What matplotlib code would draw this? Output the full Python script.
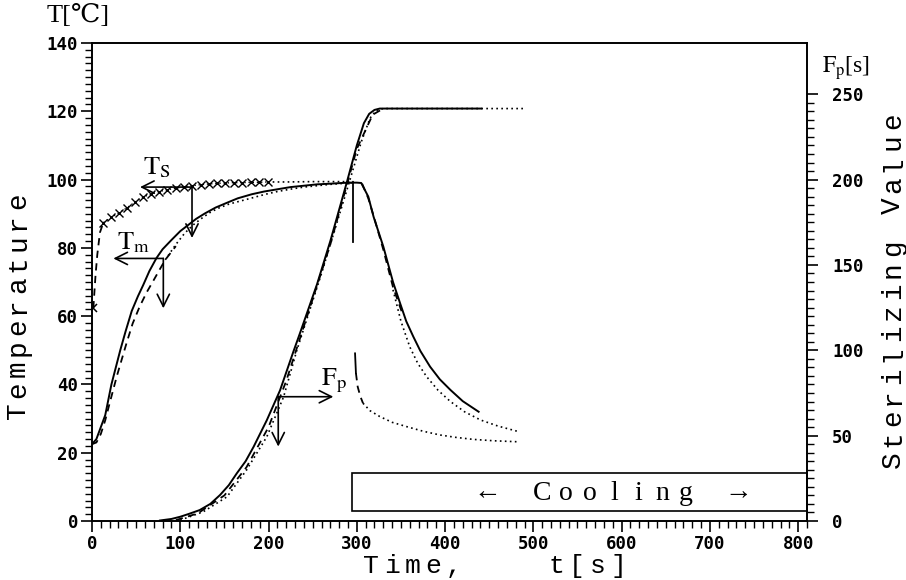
import matplotlib
matplotlib.use("Agg")
from matplotlib import pyplot as plt
from matplotlib.patches import Rectangle
from matplotlib.ticker import MultipleLocator

# ---- data ----
# centre temperature Tm, calculated (solid)
tm_calc_t = [0, 5, 10, 15, 22, 32, 38, 45, 52, 58, 65, 73, 80, 90, 100, 109, 118, 128, 140, 151,
             165, 181, 195, 211, 225, 240, 255, 270, 290, 300, 305, 313, 319, 330, 341, 349, 356,
             364, 372, 383, 394, 406, 420, 438]
tm_calc = [22.5, 24, 27.5, 31, 40, 50, 55.5, 61.5, 65.8, 69.1, 73.2, 77, 79.6, 82.3, 84.9, 86.7,
           88.5, 90.1, 91.8, 93, 94.5, 95.7, 96.5, 97.2, 97.8, 98.2, 98.6, 98.8, 99.1, 99.1, 99.0,
           95, 89.1, 80.4, 70.0, 63.8, 58.5, 54, 49.8, 45.2, 41.5, 38.4, 35.1, 32]
# Tm measured, dashed parts
tm_dash_t = [0, 5, 10, 15, 20, 28, 39, 46, 54, 62, 70, 77, 83, 95]
tm_dash = [22.5, 23, 25.5, 29.5, 34.5, 42.3, 52, 57.8, 62.8, 67.0, 70.6, 73.8, 76.5, 80.5]
tm_dash_cool_t = [306, 313, 320, 330, 341, 352]
tm_dash_cool = [98.8, 94.5, 88.5, 79.5, 68.5, 60.5]
# Tm measured, dotted parts
tm_dot_t = [83, 95, 105, 115, 125, 134, 143, 155, 165, 181, 195, 210, 225, 240, 255, 270, 296]
tm_dot = [76.5, 81.0, 84.3, 86.8, 88.8, 90.4, 91.6, 92.8, 93.5, 94.6, 95.6, 96.5, 97.2, 97.8,
          98.2, 98.6, 99.1]
tm_dot_cool_t = [341, 350, 360, 369, 379, 392, 406, 422, 440, 460, 483]
tm_dot_cool = [67.7, 58.5, 51, 46.2, 42.3, 38.3, 35, 32.0, 29.6, 27.8, 26.2]

# surface temperature Ts
ts_first_t, ts_first = [1.5], [62.3]
ts_rise_t = [1.5, 4, 6, 9, 12.8]
ts_rise = [62.3, 72, 78, 84.5, 87.4]
ts_mark_t = [13, 22, 31, 40, 49, 58, 67, 76, 85, 95, 104, 113, 123, 132, 142, 151, 161, 170, 180,
             189, 199]
ts_mark = [87.4, 89.0, 90.3, 91.8, 93.5, 94.9, 95.8, 96.5, 97.0, 97.5, 97.9, 98.2, 98.5, 98.7, 98.9,
           99.0, 99.1, 99.1, 99.2, 99.2, 99.3]
ts_hold_t = [199, 220, 250, 280, 296]
ts_hold = [99.3, 99.3, 99.4, 99.4, 99.4]
ts_drop_t = [296, 296]
ts_drop = [99.4, 81.8]
ts_cool_solid_t = [298, 299]
ts_cool_solid = [49.1, 43.3]
ts_cool_dash_t = [299, 301, 304, 307]
ts_cool_dash = [43.3, 39.3, 36.5, 34.5]
ts_cool_dot_t = [307, 315, 326, 340, 357, 375, 394, 412, 432, 455, 483]
ts_cool_dot = [34.5, 32.3, 30.6, 28.9, 27.6, 26.3, 25.2, 24.5, 23.9, 23.5, 23.2]

# sterilizing value Fp [s]
fp_calc_t = [77, 90, 100, 110, 122, 134, 145, 155, 164, 174, 183, 198, 213, 228, 236, 255, 270,
             289, 300, 308, 314, 320, 326, 335, 441]
fp_calc = [0.3, 1.2, 2.5, 4.2, 6.4, 10, 15.2, 21, 27.9, 35, 43.4, 59, 76.5, 99, 110.6, 138.8, 164,
           199, 220, 233, 238.5, 240.8, 241.6, 241.6, 241.6]
fp_dash_t = [95, 120, 150, 175, 200, 220, 240, 270, 300, 318, 330]
fp_dash = [0.5, 4.5, 15, 31.5, 55, 82, 114, 162, 218, 238, 241.6]
fp_dot_t = [100, 126, 153, 175, 198, 217, 232, 260, 290, 305, 315, 322, 330, 441, 489]
fp_dot = [0.5, 5.4, 14.2, 29.8, 49.3, 72.6, 99.9, 145, 196, 222, 236, 240.5, 241.6, 241.6, 241.6]

W, H = 906, 580
SERIF = ["Liberation Serif", "DejaVu Serif"]
MONO = ["Liberation Mono", "DejaVu Sans Mono"]

plt.rcParams["font.family"] = "DejaVu Sans Mono"
plt.rcParams["mathtext.fontset"] = "stix"


def px(x, y):
    return x / W, 1 - y / H


def spaced(fig, s, x, y, step, vertical=False, **kw):
    # old plotter lettering: one glyph at a time on a fixed pitch
    for i, ch in enumerate(s):
        if ch == " ":
            continue
        if vertical:
            fig.text(*px(x, y - i * step), ch, rotation=90, ha="center", va="center", **kw)
        else:
            fig.text(*px(x + i * step, y), ch, ha="center", va="center", **kw)


fig = plt.figure(figsize=(W / 100, H / 100), dpi=100)
ax = fig.add_axes([92 / W, 1 - 521 / H, (807 - 92) / W, (521 - 43) / H])
ax2 = ax.twinx()

k = dict(color="black")
ax.plot(tm_calc_t, tm_calc, lw=1.4, **k)
ax.plot(tm_dash_t, tm_dash, lw=1.3, ls=(0, (4, 3)), **k)
ax.plot(tm_dash_cool_t, tm_dash_cool, lw=1.3, ls=(0, (4, 3)), **k)
ax.plot(tm_dot_t, tm_dot, lw=1.2, ls=(0, (1, 2)), **k)
ax.plot(tm_dot_cool_t, tm_dot_cool, lw=1.2, ls=(0, (1, 2)), **k)

ax.plot(ts_first_t, ts_first, ls="none", marker="x", ms=6, mew=1.1, **k)
ax.plot(ts_rise_t, ts_rise, lw=1.3, ls=(0, (4, 3)), **k)
ax.plot(ts_mark_t, ts_mark, lw=1.0, ls=(0, (1, 2)), marker="x", ms=5.5, mew=1.0, **k)
ax.plot(ts_hold_t, ts_hold, lw=1.2, ls=(0, (1, 2)), **k)
ax.plot(ts_drop_t, ts_drop, lw=1.3, **k)
ax.plot(ts_cool_solid_t, ts_cool_solid, lw=1.3, **k)
ax.plot(ts_cool_dash_t, ts_cool_dash, lw=1.3, ls=(0, (4, 3)), **k)
ax.plot(ts_cool_dot_t, ts_cool_dot, lw=1.2, ls=(0, (1, 2)), **k)

ax2.plot(fp_calc_t, fp_calc, lw=1.4, **k)
ax2.plot(fp_dash_t, fp_dash, lw=1.3, ls=(0, (4, 3)), **k)
ax2.plot(fp_dot_t, fp_dot, lw=1.2, ls=(0, (1, 2)), **k)

# reading arrows
arr = dict(arrowstyle="->", lw=1.2, color="black", shrinkA=0, shrinkB=0, mutation_scale=22)
for corner, side_x, down_y in [((113.3, 97.8), 54.4, 82.9),
                               ((80.8, 76.9), 24.2, 62.3),
                               ((211, 36.4), 273.4, 21.8)]:
    ax.annotate("", xy=(side_x, corner[1]), xytext=corner, arrowprops=arr)
    ax.annotate("", xy=(corner[0], down_y), xytext=corner, arrowprops=arr)
ax.text(73.6, 103.5, r"$\mathrm{T_S}$", fontsize=19, ha="center", va="center")
ax.text(46.5, 81.5, r"$\mathrm{T_m}$", fontsize=19, ha="center", va="center")
ax.text(274, 41, r"$\mathrm{F_p}$", fontsize=19, ha="center", va="center")

# cooling bar
ax.add_patch(Rectangle((294, 3.0), 810 - 294, 11, fill=False, lw=1.2, ec="black", clip_on=False))
fig.text(*px(487, 493), "←", family=SERIF, fontsize=20, ha="center", va="center")
fig.text(*px(738, 493), "→", family=SERIF, fontsize=20, ha="center", va="center")
spaced(fig, "Cooling", 542, 493, 24, family=SERIF, fontsize=20)

ax.set_xlim(0, 810)
ax.set_ylim(0, 140)
ax2.set_ylim(0, 280)
ax.set_xticks(range(0, 801, 100))
ax.xaxis.set_minor_locator(MultipleLocator(10))
ax.set_yticks(range(0, 141, 20))
ax.yaxis.set_minor_locator(MultipleLocator(2))
ax2.set_yticks(range(0, 251, 50))
ax2.set_yticks(range(0, 251, 5), minor=True)
for a in (ax, ax2):
    a.tick_params(which="major", direction="out", length=8, width=1.2, labelsize=12.5, pad=2)
    a.tick_params(which="minor", direction="out", length=5, width=1.0)
    for s in a.spines.values():
        s.set_linewidth(1.2)
ax2.tick_params(pad=10)
plt.setp(ax.get_xticklabels() + ax.get_yticklabels() + ax2.get_yticklabels(), fontweight="bold")

# axis titles
fig.text(*px(78, 16), "T[℃]", family=SERIF, fontsize=19, ha="center", va="center")
fig.text(*px(846, 68), r"$\mathrm{F_p}$[s]", family=SERIF, fontsize=17, ha="center", va="center")
spaced(fig, "Temperature", 18, 411, 21, vertical=True, family=MONO, fontsize=20)
spaced(fig, "Sterilizing Value", 893, 460, 21.2, vertical=True, family=MONO, fontsize=20)
spaced(fig, "Time,    t[s]", 371, 566, 20.6, family=MONO, fontsize=19)

fig.savefig("out.png", dpi=100)
